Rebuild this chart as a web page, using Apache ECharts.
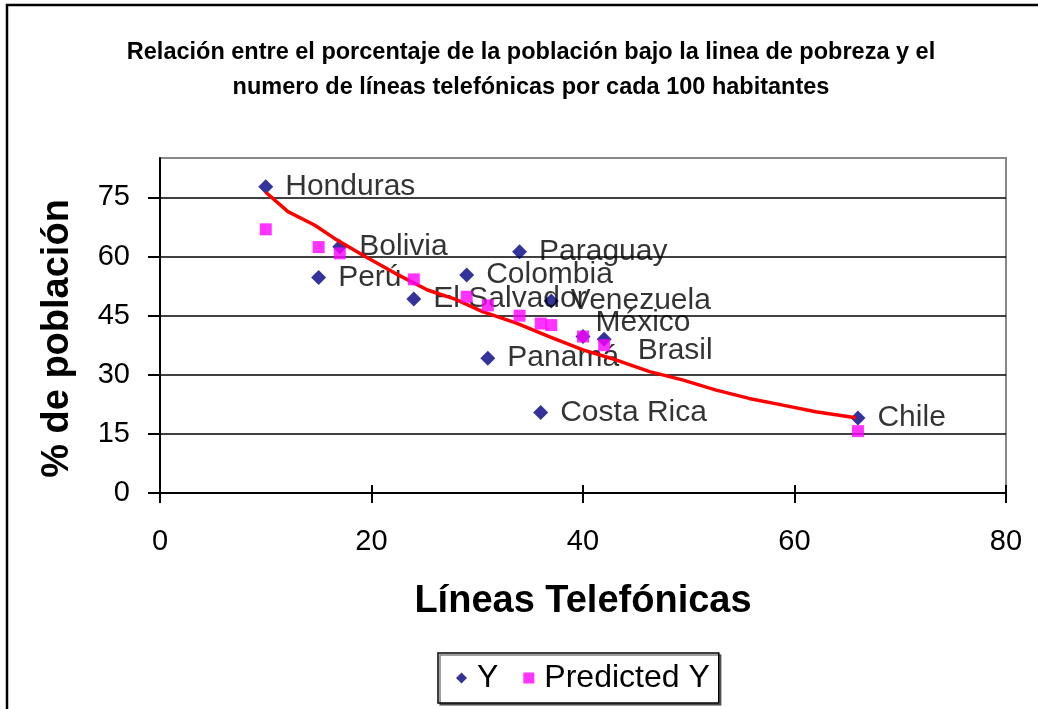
<!DOCTYPE html>
<html>
<head>
<meta charset="utf-8">
<script src="https://cdn.jsdelivr.net/npm/echarts@6/dist/echarts.min.js"></script>
<style>html,body{margin:0;padding:0;background:#fff;}#c{width:1038px;height:709px;}</style>
</head>
<body>
<div id="c"></div>
<script>
const countries = ['Honduras','Perú','Bolivia','El Salvador','Colombia','Panamá','Paraguay','Costa Rica','Venezuela','México','Brasil','Chile'];
const lineas    = [10, 15, 17, 24, 29, 31, 34, 36, 37, 40, 42, 66];
const poblacion = [77.7, 54.7, 62.5, 49.2, 55.3, 34.2, 61.2, 20.4, 48.7, 39.7, 39.0, 19.0];
const predX = [10, 15, 17, 24, 29, 31, 34, 36, 37, 40, 42, 66];
const predY = [66.9, 62.4, 60.8, 54.2, 49.8, 47.6, 45.0, 43.0, 42.6, 39.7, 37.5, 15.7];
const trendX = [10, 12.1, 14.6, 16.5, 19.4, 22.2, 25.3, 27.9, 30.5, 33.7, 36.8, 40.0, 43.1, 46.3, 49.4, 52.6, 55.7, 58.9, 62.0, 65.8];
const trendY = [76.3, 71.4, 68.0, 64.6, 60.0, 55.8, 51.5, 49.2, 46.0, 43.1, 39.7, 36.3, 33.8, 30.8, 28.7, 26.1, 24.0, 22.3, 20.6, 19.1];
const yTicks = [0, 15, 30, 45, 60, 75];
const labelOffsets = {'México': [-7, -14], 'Brasil': [14, 11]};

const font = '"Liberation Sans", Arial, sans-serif';
const chart = echarts.init(document.getElementById('c'));

const yData = countries.map((c, i) => ({ value: [lineas[i], poblacion[i]], name: c }));

chart.setOption({
  backgroundColor: '#fff',
  animation: false,
  title: {
    text: 'Relación entre el porcentaje de la población bajo la linea de pobreza y el\nnumero de líneas telefónicas por cada 100 habitantes',
    left: 526, top: 30, textAlign: 'center',
    textStyle: { fontFamily: font, fontWeight: 'bold', fontSize: 23.5, lineHeight: 35, color: '#000' }
  },
  graphic: [{
    type: 'rect', shape: { x: 7, y: 5, width: 1100, height: 800 },
    style: { fill: 'none', stroke: '#000', lineWidth: 2.5 }, silent: true
  }],
  legend: {
    data: [{ name: 'Y', icon: 'diamond' }, { name: 'Predicted Y', icon: 'rect' }],
    left: 438, top: 653,
    padding: [9, 9, 9, 18],
    itemWidth: 11, itemHeight: 11, itemGap: 25,
    borderColor: '#000', borderWidth: 1.5, backgroundColor: '#fff',
    shadowColor: 'rgba(0,0,0,0.5)', shadowOffsetX: 2, shadowOffsetY: 2, shadowBlur: 0,
    textStyle: { fontFamily: font, fontSize: 32, color: '#000', padding: [0, 0, 0, 5] }
  },
  grid: {
    left: 160, right: 32, top: 158, bottom: 216,
    show: true, borderColor: '#888', borderWidth: 2, backgroundColor: '#fff'
  },
  xAxis: [{
    type: 'value', min: 0, max: 80, interval: 20, position: 'bottom',
    name: 'Líneas Telefónicas', nameLocation: 'middle', nameGap: 90,
    nameTextStyle: { fontFamily: font, fontWeight: 'bold', fontSize: 38, color: '#000' },
    axisLine: { show: true, lineStyle: { color: '#000', width: 2 } },
    axisTick: { show: true, inside: false, length: 10, lineStyle: { color: '#000', width: 2 } },
    axisLabel: { fontFamily: font, fontSize: 29, color: '#000', margin: 34 },
    splitLine: { show: false }
  }, {
    type: 'value', min: 0, max: 80, interval: 20, position: 'bottom', gridIndex: 0,
    axisLine: { show: false },
    axisTick: { show: true, inside: true, length: 8, lineStyle: { color: '#000', width: 2 } },
    axisLabel: { show: false },
    splitLine: { show: false }
  }],
  yAxis: {
    type: 'value', min: 0, max: 85, interval: 15,
    name: '% de población', nameLocation: 'middle', nameGap: 83,
    nameTextStyle: { fontFamily: font, fontWeight: 'bold', fontSize: 38, color: '#000', padding: [0, 26, 0, 0] },
    axisLine: { show: true, lineStyle: { color: '#000', width: 2 } },
    axisTick: { show: true, length: 12, customValues: yTicks, lineStyle: { color: '#000', width: 2 } },
    axisLabel: { fontFamily: font, fontSize: 29, color: '#000', margin: 30, customValues: yTicks },
    splitLine: { show: true, lineStyle: { color: '#000', width: 1.5 } }
  },
  series: [{
    name: 'Y', type: 'scatter', xAxisIndex: 0, symbol: 'diamond', symbolSize: 15, z: 3,
    itemStyle: { color: '#000080' },
    label: { show: true, position: 'right', distance: 12, formatter: p => p.name,
      fontFamily: font, fontSize: 30, color: '#000' },
    labelLayout: function (params) {
      const off = labelOffsets[countries[params.dataIndex]];
      return off ? { dx: off[0], dy: off[1], hideOverlap: false } : { hideOverlap: false };
    },
    data: yData
  }, {
    name: 'Trend', type: 'line', xAxisIndex: 0, showSymbol: false, symbol: 'none', z: 4,
    lineStyle: { color: '#ff0000', width: 3.5 },
    data: trendX.map((x, i) => [x, trendY[i]])
  }, {
    name: 'Predicted Y', type: 'scatter', xAxisIndex: 0, symbol: 'rect', symbolSize: 12, z: 5,
    itemStyle: { color: '#ff00ff' },
    data: predX.map((x, i) => [x, predY[i]])
  }]
});
</script>
</body>
</html>
